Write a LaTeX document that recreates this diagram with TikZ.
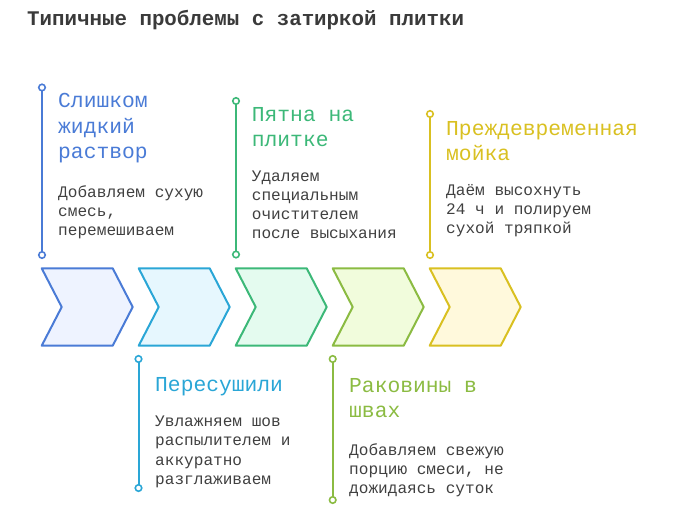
\documentclass[tikz,border=0pt]{standalone}
\usepackage{fontspec}
\setmainfont{Liberation Mono}
\definecolor{cA}{HTML}{4A7BD6}
\definecolor{fA}{HTML}{EEF3FF}
\definecolor{cB}{HTML}{2AA6D6}
\definecolor{fB}{HTML}{E6F7FE}
\definecolor{cC}{HTML}{3CB878}
\definecolor{fC}{HTML}{E4FBEF}
\definecolor{cD}{HTML}{8BBB42}
\definecolor{fD}{HTML}{F1FCDC}
\definecolor{cE}{HTML}{D9C021}
\definecolor{fE}{HTML}{FFF9DC}
\definecolor{txt}{HTML}{404040}
\definecolor{ttl}{HTML}{3A3A3A}
\tikzset{
  chev/.style={line width=2pt, line join=round},
  stem/.style={line width=2pt},
  dot/.style={circle, draw, fill=white, line width=1.6pt, minimum size=6.5pt, inner sep=0pt},
  head/.style={anchor=base west, align=left, inner sep=0pt, font=\fontsize{21.3}{25.3}\selectfont},
  desc/.style={anchor=base west, align=left, inner sep=0pt, text=txt, font=\fontsize{16.1}{19.2}\selectfont},
  titlebox/.style={anchor=base west, inner sep=0pt, text=ttl, font=\bfseries\fontsize{20.8}{25}\selectfont}
}
\newcommand{\chevron}[3]{%
  \draw[chev, draw=#2, fill=#3] (#1,268.3) -- ++(71,0) -- ++(20,38.7) -- ++(-20,38.7) -- ++(-71,0) -- ++(20,-38.7) -- cycle;}
\begin{document}
\begin{tikzpicture}[x=1pt,y=-1pt]
\useasboundingbox (0,0) rectangle (676,514);
\node[titlebox] (title) at (27,25) {Типичные проблемы с затиркой плитки};

\chevron{41.7}{cA}{fA}
\chevron{138.7}{cB}{fB}
\chevron{235.7}{cC}{fC}
\chevron{332.7}{cD}{fD}
\chevron{429.7}{cE}{fE}

% stems
\coordinate (a1) at (42,87.5);   \coordinate (a2) at (42,255);
\coordinate (c1) at (236,101);   \coordinate (c2) at (236,254.5);
\coordinate (e1) at (430,114);   \coordinate (e2) at (430,255);
\coordinate (b1) at (138.5,359); \coordinate (b2) at (138.5,488);
\coordinate (d1) at (332.7,359); \coordinate (d2) at (332.7,500);
\draw[stem, cA] (a1) -- (a2);
\draw[stem, cC] (c1) -- (c2);
\draw[stem, cE] (e1) -- (e2);
\draw[stem, cB] (b1) -- (b2);
\draw[stem, cD] (d1) -- (d2);
\foreach \p/\c in {a1/cA,a2/cA,c1/cC,c2/cC,e1/cE,e2/cE,b1/cB,b2/cB,d1/cD,d2/cD}
  \node[dot, draw=\c] at (\p) {};

% texts (base anchor = baseline of last line)
\node[head, text=cA] (h1) at (58,158.5) {Слишком\\жидкий\\раствор};
\node[desc] (t1) at (58,235.4) {Добавляем сухую\\смесь,\\перемешиваем};

\node[head, text=cC] (h3) at (251.7,146.8) {Пятна на\\плитке};
\node[desc] (t3) at (251.7,238.6) {Удаляем\\специальным\\очистителем\\после высыхания};

\node[head, text=cE] (h5) at (446,160.3) {Преждевременная\\мойка};
\node[desc] (t5) at (446,233.4) {Даём высохнуть\\24 ч и полируем\\сухой тряпкой};

\node[head, text=cB] (h2) at (155,391.7) {Пересушили};
\node[desc] (t2) at (155,484.2) {Увлажняем шов\\распылителем и\\аккуратно\\разглаживаем};

\node[head, text=cD] (h4) at (349,417.5) {Раковины в\\швах};
\node[desc] (t4) at (349,493.4) {Добавляем свежую\\порцию смеси, не\\дожидаясь суток};
\end{tikzpicture}
\end{document}
